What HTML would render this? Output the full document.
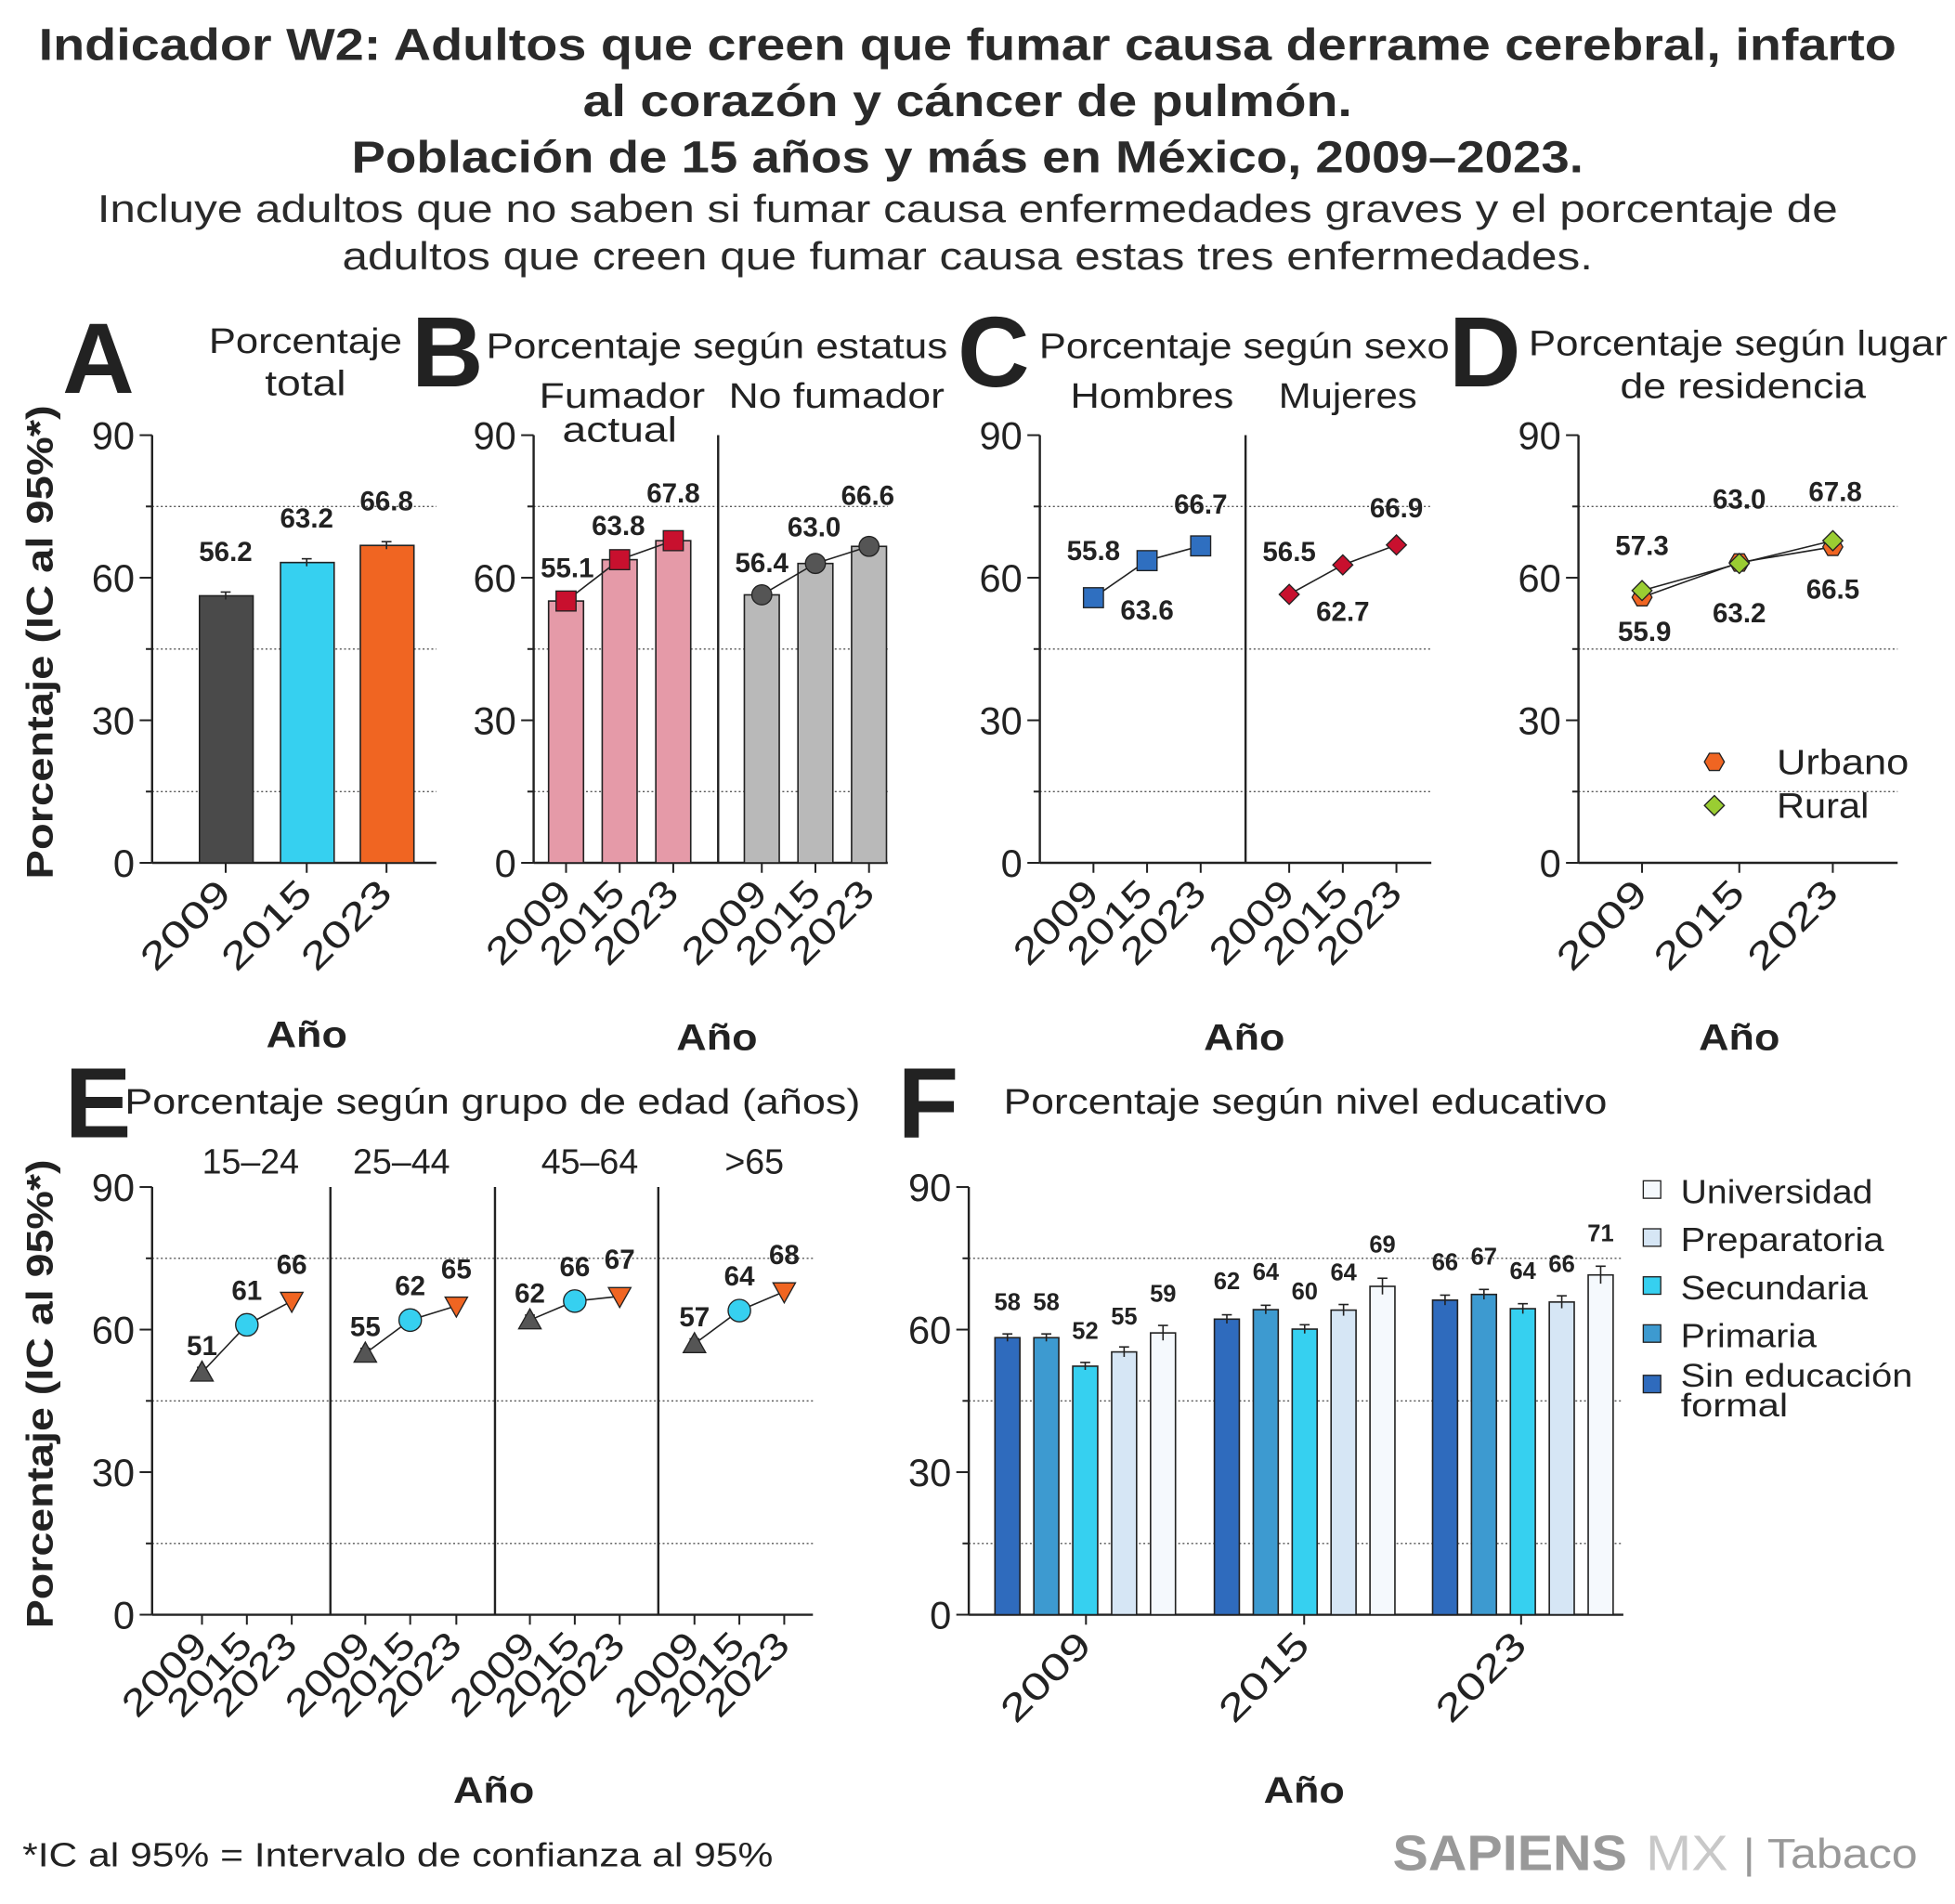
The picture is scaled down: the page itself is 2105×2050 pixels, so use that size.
<!DOCTYPE html>
<html><head><meta charset="utf-8"><style>
html,body{margin:0;padding:0;background:#fff;}
svg{display:block;font-family:"Liberation Sans",sans-serif;}
</style></head><body>
<svg id="s" width="2105" height="2050" viewBox="0 0 1568 1527" xmlns="http://www.w3.org/2000/svg">
</svg>
<script>
const s=document.getElementById('s');let h='';
const T=(x,y,t,o={})=>{h+=`<text x="${x}" y="${y}" font-size="${o.fs||28}" ${o.b?'font-weight="bold"':''} text-anchor="${o.a||'middle'}" fill="${o.c||'#222'}" ${o.tl?`textLength="${o.tl}" lengthAdjust="spacingAndGlyphs"`:''} ${o.r!=null?`transform="rotate(${o.r} ${x} ${y})"`:''}>${t}</text>`;};
const L=(x1,y1,x2,y2,o={})=>{h+=`<line x1="${x1}" y1="${y1}" x2="${x2}" y2="${y2}" stroke="${o.c||'#222'}" stroke-width="${o.w||1.5}" ${o.d?`stroke-dasharray="${o.d}"`:''}/>`;};
const R=(x,y,w,hh,f)=>{h+=`<rect x="${x}" y="${y}" width="${w}" height="${hh}" fill="${f}" stroke="#222" stroke-width="1.2"/>`;};
// titles
T(776,48,'Indicador W2: Adultos que creen que fumar causa derrame cerebral, infarto',{fs:36,b:1,tl:1490,c:'#2a2a2a'});
T(776,93,'al corazón y cáncer de pulmón.',{fs:36,b:1,tl:617,c:'#2a2a2a'});
T(776,138,'Población de 15 años y más en México, 2009–2023.',{fs:36,b:1,tl:988,c:'#2a2a2a'});
T(776,178,'Incluye adultos que no saben si fumar causa enfermedades graves y el porcentaje de',{fs:31,tl:1396,c:'#2a2a2a'});
T(776,216,'adultos que creen que fumar causa estas tres enfermedades.',{fs:31,tl:1003,c:'#2a2a2a'});
function axis(x,yb,xend,divs,xs,tl){const yt=yb-343,k=343/90,Y=v=>yb-v*k;
 [75,45,15].forEach(v=>L(x,Y(v),xend,Y(v),{c:'#555',w:1,d:'1.5,2'}));
 L(x,yt,x,yb,{w:1.8});L(x,yb,xend,yb,{w:1.8});
 [0,30,60,90].forEach(v=>{L(x-10,Y(v),x,Y(v));T(x-14,Y(v)+11,v,{fs:31,a:'end'});});
 [15,45,75].forEach(v=>L(x-5,Y(v),x,Y(v)));
 divs.forEach(d=>L(d,yt,d,yb,{w:1.8}));
 xs.forEach(([cx,t])=>{L(cx,yb,cx,yb+8);T(cx+6,yb+26,t,{fs:30,a:'end',r:-45,tl:tl||82});});
 return Y;}
function err(x,y,d){L(x,y-d,x,y+d,{w:1.2});L(x-4,y-d,x+4,y-d,{w:1.2});}
const Y1=v=>692-v*343/90,Y2=v=>1295-v*343/90;
const yrs=['2009','2015','2023'];
[['A',50,315],['B',330,310],['C',768,310],['D',1162,310],['E',52,912],['F',720,912]].forEach(a=>T(a[1],a[2],a[0],{fs:80,b:1,a:'start',c:'#222'}));
T(42,515,'Porcentaje (IC al 95%*)',{fs:30,b:1,r:-90,tl:380});T(42,1118,'Porcentaje (IC al 95%*)',{fs:30,b:1,r:-90,tl:376});
// A
T(245,283,'Porcentaje',{fs:28,tl:155});T(245,317,'total',{fs:28,tl:65});
axis(122,692,350,[],[[181,'2009'],[246,'2015'],[310,'2023']],88);
[[160,56.2,'#4a4a4a'],[225,63.2,'#36d0f0'],[289,66.8,'#f06522']].forEach(([x,v,c])=>{R(x,Y1(v),43,692-Y1(v),c);err(x+21,Y1(v),3);T(x+21,Y1(v)-28,v.toFixed(1),{fs:22,b:1});});
T(246,840,'Año',{fs:30,b:1,tl:65});
// B
T(575,287,'Porcentaje según estatus',{fs:28,tl:370});T(499,327,'Fumador',{fs:28,tl:133});T(497,354,'actual',{fs:28,tl:92});T(671,327,'No fumador',{fs:28,tl:173});
axis(428,692,712,[576],[[454,'2009'],[497,'2015'],[540,'2023'],[611,'2009'],[654,'2015'],[697,'2023']]);
let bp=[[454,55.1],[497,63.8],[540,67.8]],bg=[[611,56.4],[654,63.0],[697,66.6]];
bp.forEach(([x,v])=>{R(x-14,Y1(v),28,692-Y1(v),'#e59aa8');err(x,Y1(v),4);});
bg.forEach(([x,v])=>{R(x-14,Y1(v),28,692-Y1(v),'#b9b9b9');});
h+=`<polyline points="${bp.map(p=>p[0]+','+Y1(p[1])).join(' ')}" fill="none" stroke="#222" stroke-width="1.2"/>`;
h+=`<polyline points="${bg.map(p=>p[0]+','+Y1(p[1])).join(' ')}" fill="none" stroke="#222" stroke-width="1.2"/>`;
bp.forEach(([x,v])=>h+=`<rect x="${x-8}" y="${Y1(v)-8}" width="16" height="16" fill="#c8102e" stroke="#222" stroke-width="1"/>`);
bg.forEach(([x,v])=>h+=`<circle cx="${x}" cy="${Y1(v)}" r="8" fill="#555" stroke="#222" stroke-width="1"/>`);
[[455,463,'55.1'],[496,429,'63.8'],[540,403,'67.8'],[611,459,'56.4'],[653,430,'63.0'],[696,405,'66.6']].forEach(a=>T(a[0],a[1],a[2],{fs:22,b:1}));
T(575,842,'Año',{fs:30,b:1,tl:65});
// C
T(998,287,'Porcentaje según sexo',{fs:28,tl:329});T(924,327,'Hombres',{fs:28,tl:131});T(1081,327,'Mujeres',{fs:28,tl:111});
axis(834,692,1148,[999],[[877,'2009'],[920,'2015'],[963,'2023'],[1034,'2009'],[1077,'2015'],[1120,'2023']]);
let ch=[[877,55.8],[920,63.6],[963,66.7]],cm=[[1034,56.5],[1077,62.7],[1120,66.9]];
[ch,cm].forEach(a=>h+=`<polyline points="${a.map(p=>p[0]+','+Y1(p[1])).join(' ')}" fill="none" stroke="#222" stroke-width="1.2"/>`);
ch.forEach(([x,v])=>h+=`<rect x="${x-8}" y="${Y1(v)-8}" width="16" height="16" fill="#2f6fc0" stroke="#222" stroke-width="1"/>`);
cm.forEach(([x,v])=>{const y=Y1(v);h+=`<polygon points="${x},${y-8} ${x+8},${y} ${x},${y+8} ${x-8},${y}" fill="#c8102e" stroke="#222" stroke-width="1"/>`;});
[[877,449,'55.8'],[920,497,'63.6'],[963,412,'66.7'],[1034,450,'56.5'],[1077,498,'62.7'],[1120,415,'66.9']].forEach(a=>T(a[0],a[1],a[2],{fs:22,b:1}));
T(998,842,'Año',{fs:30,b:1,tl:65});
// D
T(1394,285,'Porcentaje según lugar',{fs:28,tl:336});T(1398,319,'de residencia',{fs:28,tl:197});
axis(1266,692,1522,[],[[1317,'2009'],[1395,'2015'],[1470,'2023']],88);
let du=[[1317,55.9],[1395,63.2],[1470,66.5]],dr=[[1317,57.3],[1395,63.0],[1470,67.8]];
[du,dr].forEach(a=>h+=`<polyline points="${a.map(p=>p[0]+','+Y1(p[1])).join(' ')}" fill="none" stroke="#222" stroke-width="1.2"/>`);
const hex=(x,y,f)=>{let p=[];for(let i=0;i<6;i++){const a=Math.PI/3*i;p.push((x+8*Math.cos(a)).toFixed(1)+','+(y+8*Math.sin(a)).toFixed(1));}h+=`<polygon points="${p.join(' ')}" fill="${f}" stroke="#222" stroke-width="1"/>`;};
const dia=(x,y,f)=>h+=`<polygon points="${x},${y-8} ${x+8},${y} ${x},${y+8} ${x-8},${y}" fill="${f}" stroke="#222" stroke-width="1"/>`;
du.forEach(([x,v])=>hex(x,Y1(v),'#f06522'));dr.forEach(([x,v])=>dia(x,Y1(v),'#9acd32'));
[[1317,445,'57.3'],[1319,514,'55.9'],[1395,408,'63.0'],[1395,499,'63.2'],[1472,402,'67.8'],[1470,480,'66.5']].forEach(a=>T(a[0],a[1],a[2],{fs:22,b:1}));
hex(1375,611,'#f06522');dia(1375,646,'#9acd32');T(1425,621,'Urbano',{fs:28,a:'start',tl:106});T(1425,656,'Rural',{fs:28,a:'start',tl:74});
T(1395,842,'Año',{fs:30,b:1,tl:65});
// E
T(395,893,'Porcentaje según grupo de edad (años)',{fs:28,tl:590});
[[201,'15–24'],[322,'25–44'],[473,'45–64'],[605,'>65']].forEach(a=>T(a[0],941,a[1],{fs:28}));
const ex=[[162,198,234],[293,329,366],[425,461,497],[557,593,629]],ev=[[51,61,66],[55,62,65],[62,66,67],[57,64,68]];
let xt=[];ex.forEach(g=>g.forEach((x,i)=>xt.push([x,yrs[i]])));
axis(122,1295,652,[265,397,528],xt);
ex.forEach((g,j)=>{const v=ev[j];
 h+=`<polyline points="${g.map((x,i)=>x+','+Y2(v[i])).join(' ')}" fill="none" stroke="#222" stroke-width="1.2"/>`;
 g.forEach((x,i)=>err(x,Y2(v[i]),4));
 let y=Y2(v[0]);h+=`<polygon points="${g[0]},${y-9} ${g[0]+9},${y+7} ${g[0]-9},${y+7}" fill="#555" stroke="#222"/>`;
 h+=`<circle cx="${g[1]}" cy="${Y2(v[1])}" r="9" fill="#36d0f0" stroke="#222"/>`;
 y=Y2(v[2]);h+=`<polygon points="${g[2]},${y+9} ${g[2]+9},${y-7} ${g[2]-9},${y-7}" fill="#f06522" stroke="#222"/>`;
 T(g[0],Y2(v[0])-14,v[0],{fs:22,b:1});T(g[1],Y2(v[1])-20,v[1],{fs:22,b:1});T(g[2],Y2(v[2])-22,v[2],{fs:22,b:1});
});
T(396,1446,'Año',{fs:30,b:1,tl:65});
// F
T(1047,893,'Porcentaje según nivel educativo',{fs:28,tl:484});
axis(777,1295,1302,[],[[871,'2009'],[1046,'2015'],[1220,'2023']],88);
const fc=['#2f6bbd','#3d9ad0','#36d0f0','#d6e6f5','#f5f9fd'];
const fs=[798,974,1149],fv=[[58.3,58.3,52.3,55.3,59.3],[62.2,64.2,60.1,64.1,69.1],[66.2,67.4,64.4,65.8,71.5]],fl=[[58,58,52,55,59],[62,64,60,64,69],[66,67,64,66,71]];
fs.forEach((x0,g)=>fv[g].forEach((v,i)=>{const x=x0+i*31.2,y=Y2(v);R(x,y,20,1295-y,fc[i]);err(x+10,y,[3,3,3,4,6][i]+g*0.5);T(x+10,y-22-[0,0,0,0,3][i]-(g?2:0),fl[g][i],{fs:19,b:1});}));
['Universidad','Preparatoria','Secundaria','Primaria'].forEach((t,i)=>{const y=955+i*38.5;h+=`<rect x="1318" y="${y-8}" width="14" height="14" fill="${fc[4-i]}" stroke="#222" stroke-width="1"/>`;T(1348,y+10,t,{fs:27,a:'start',tl:[154,163,150,109][i]});});
h+=`<rect x="1318" y="1103" width="14" height="14" fill="${fc[0]}" stroke="#222" stroke-width="1"/>`;
T(1348,1112,'Sin educación',{fs:26,a:'start',tl:186});T(1348,1136,'formal',{fs:26,a:'start',tl:86});
T(1046,1446,'Año',{fs:30,b:1,tl:65});
// footer
T(18,1497,'*IC al 95% = Intervalo de confianza al 95%',{fs:27,a:'start',tl:602});
T(1117,1500,'SAPIENS',{fs:40,b:1,a:'start',c:'#999',tl:188});
T(1320,1500,'MX',{fs:40,a:'start',c:'#c8c8c8',tl:66});
T(1398,1498,'| Tabaco',{fs:33,a:'start',c:'#999',tl:140});
s.insertAdjacentHTML('beforeend',h);
</script>
</body></html>
